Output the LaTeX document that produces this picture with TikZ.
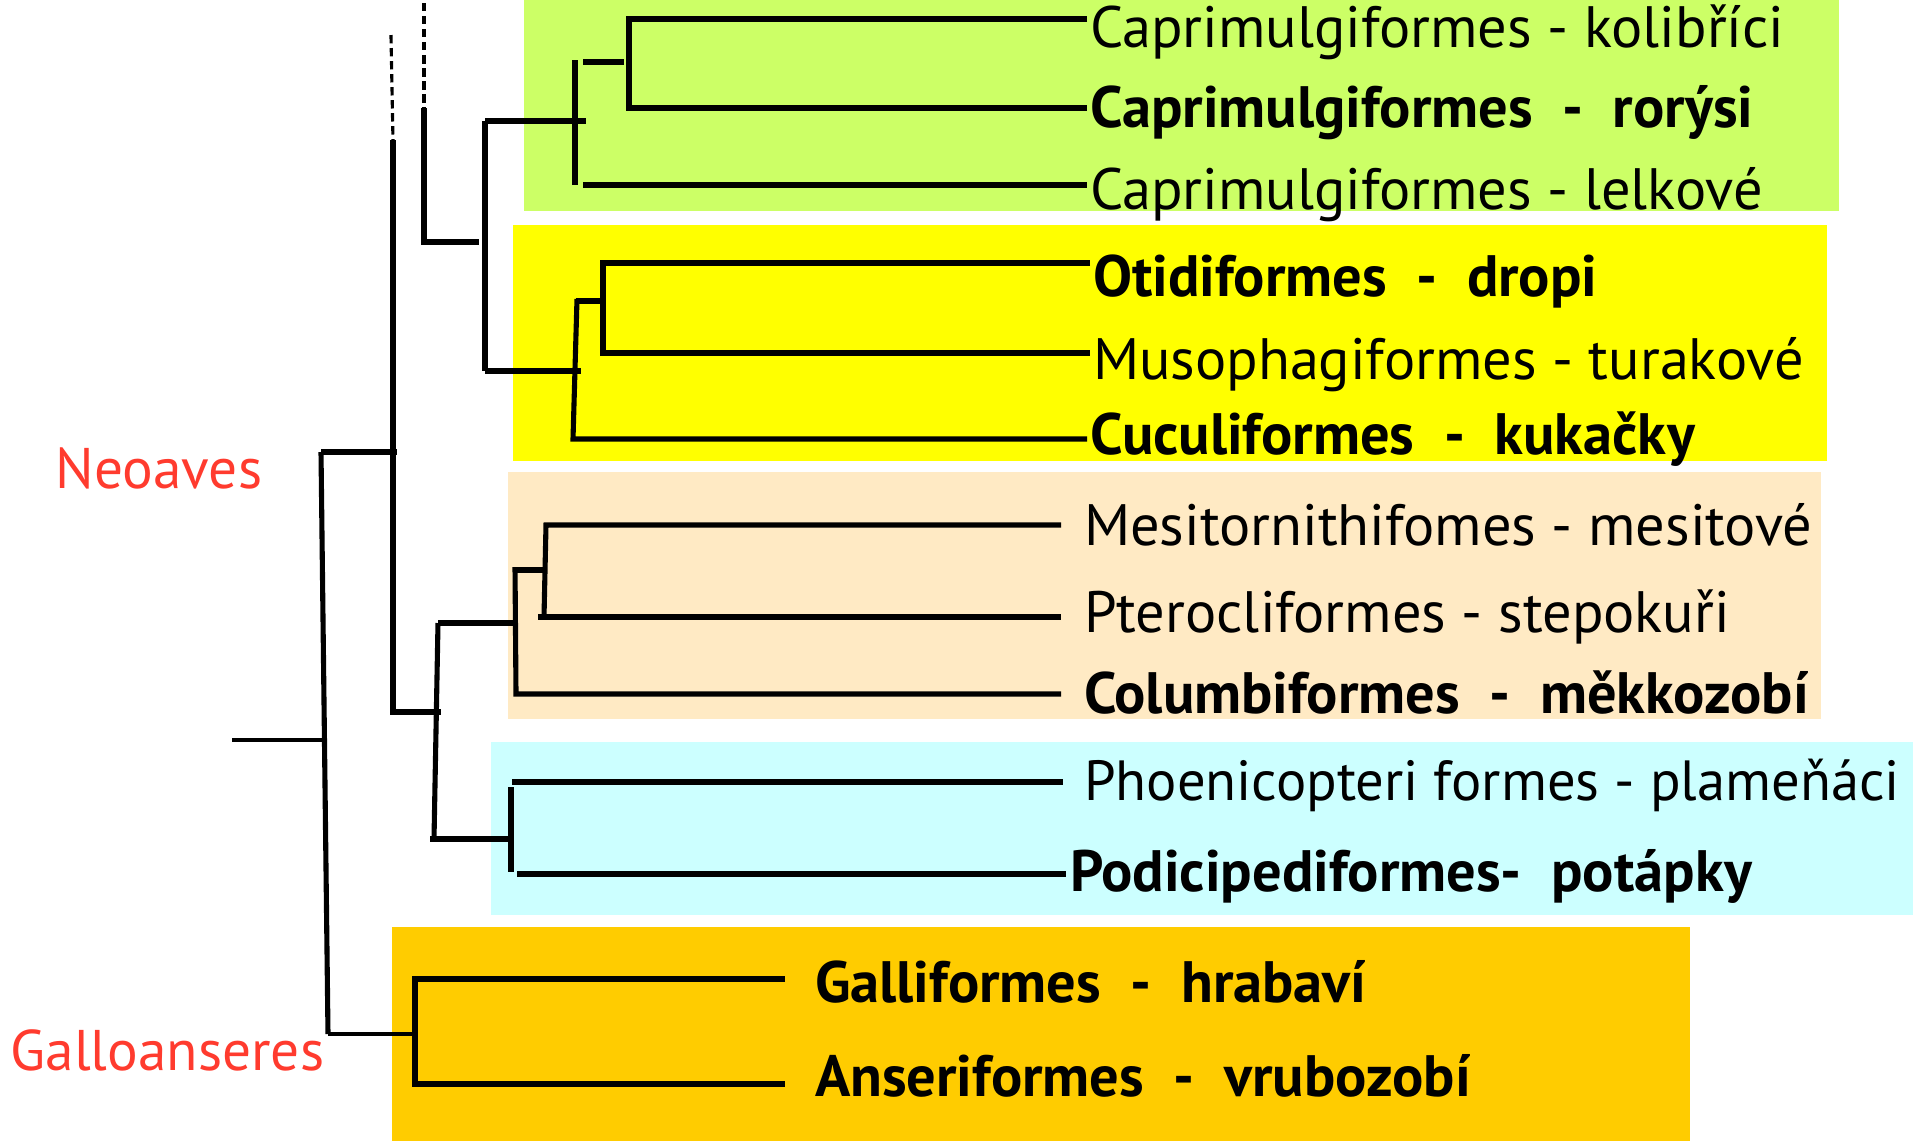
\documentclass[tikz,border=0pt]{standalone}
\usepackage{fontspec}
\setmainfont{PT Sans}
\usepackage{xcolor}
\definecolor{cladegreen}{HTML}{CCFF66}
\definecolor{cladeyellow}{HTML}{FFFF00}
\definecolor{cladebeige}{HTML}{FFEAC4}
\definecolor{cladecyan}{HTML}{CCFFFF}
\definecolor{cladeorange}{HTML}{FFCC00}
\definecolor{grpred}{HTML}{FF3B2E}

\begin{document}
\begin{tikzpicture}[
  x=0.01cm, y=-0.01cm,
  branch/.style = {line width=1.45pt, line join=miter},
  twig/.style   = {line width=0.9pt},
  stem/.style   = {line width=0.9pt, dash pattern=on 2.4pt off 1.3pt},
  leaf/.style   = {anchor=base west, inner sep=0pt, outer xsep=0.03cm,
                   font=\fontsize{16.6}{20}\selectfont},
  leafbf/.style = {leaf, font=\fontsize{16.6}{20}\selectfont\bfseries},
  grp/.style    = {anchor=west, inner sep=0pt, text=grpred,
                   font=\fontsize{16.3}{20}\selectfont}
]
  \useasboundingbox (0,0) rectangle (1913,1141);

  % clade boxes
  \fill[cladegreen]  (524,0)   rectangle (1839,211);
  \fill[cladeyellow] (513,225) rectangle (1827,461);
  \fill[cladebeige]  (508,472) rectangle (1821,719);
  \fill[cladecyan]   (491,742) rectangle (1913,915);
  \fill[cladeorange] (392,927) rectangle (1690,1141);

  % leaves
  \node[leaf]   (kolib) at (1087,47)  {Caprimulgiformes - kolibříci};
  \node[leafbf] (rorys) at (1087,127) {Caprimulgiformes \ - \ rorýsi};
  \node[leaf]   (lelk)  at (1087,209) {Caprimulgiformes - lelkové};
  \node[leafbf] (dropi) at (1090,296) {Otidiformes \ - \ dropi};
  \node[leaf]   (turak) at (1090,379) {Musophagiformes - turakové};
  \node[leafbf] (kukac) at (1087,454) {Cuculiformes \ - \ kukačky};
  \node[leaf, outer xsep=0.23cm]   (mesit) at (1061,545) {Mesitornithifomes - mesitové};
  \node[leaf, outer xsep=0.23cm]   (stepo) at (1061,632) {Pterocliformes - stepokuři};
  \node[leafbf, outer xsep=0.23cm] (mekko) at (1061,713) {Columbiformes \ - \ měkkozobí};
  \node[leaf, outer xsep=0.21cm, font=\fontsize{16.1}{20}\selectfont]
                                   (plame) at (1063,800) {Phoenicopteri formes - plameňáci};
  \node[leafbf, outer xsep=0.04cm] (potap) at (1066,891) {Podicipediformes- \ potápky};
  \node[leafbf, outer xsep=0.30cm] (hrab)  at (785,1002) {Galliformes \ - \ hrabaví};
  \node[leafbf, outer xsep=0.30cm] (vrub)  at (785,1096) {Anseriformes \ - \ vrubozobí};

  \node[grp] (neoav) at (55,468)  {Neoaves};
  \node[grp] (gallo) at (10,1050) {Galloanseres};

  % inner points of the tree
  \coordinate (root) at (232,740);  \coordinate (aves) at (324,740);
  \coordinate (neo)  at (321,452);  \coordinate (gal)  at (328,1034);
  \coordinate (n1up) at (393,140);  \coordinate (n1dn) at (393,712);
  \coordinate (n2up) at (424,108);  \coordinate (n2dn) at (424,242);
  \coordinate (n3up) at (485,121);  \coordinate (n3dn) at (485,371);
  \coordinate (gr1)  at (575,60);   \coordinate (gr2)  at (575,185);
  \coordinate (gk)   at (629,19);   \coordinate (gs)   at (629,108);
  \coordinate (ye1)  at (577,299);  \coordinate (ye2)  at (573,439);
  \coordinate (yd)   at (603,263);  \coordinate (yt)   at (603,353);
  \coordinate (n4up) at (438,623);  \coordinate (n4dn) at (434,839);
  \coordinate (be1)  at (515,567);  \coordinate (be2)  at (516,694);
  \coordinate (bm)   at (546,525);  \coordinate (bs)   at (544,617);
  \coordinate (cy1)  at (511,787);  \coordinate (cy2)  at (511,872);
  \coordinate (ga1)  at (415,979);  \coordinate (ga2)  at (415,1084);

  % base of the tree
  \draw[twig]   (root) -- (aves);
  \draw[branch] (neo) -- (gal);
  \draw[branch] (neo) -- (397,452);
  \draw[twig]   (gal) -- (418,1034);
  \draw[branch] (hrab.west |- ga1) -- (ga1) -- (ga2) -- (vrub.west |- ga2);

  % Neoaves
  \draw[stem]   (391,35) -- (n1up);
  \draw[branch] (n1up) -- (n1dn) -- (441,712);
  \draw[stem]   (424,3) -- (n2up);
  \draw[branch] (n2up) -- (n2dn) -- (479,242);
  \draw[branch] (n3up) -- (n3dn);
  \draw[branch] (n3up) -- (586,121);
  \draw[branch] (n3dn) -- (581,371);

  \draw[branch] (gr1) -- (gr2);
  \draw[branch] (583,62) -- (624,62);
  \draw[branch] (kolib.west |- gk) -- (gk) -- (gs) -- (rorys.west |- gs);
  \draw[branch] (583,185) -- (lelk.west |- gr2);

  \draw[branch] (ye1) -- (ye2) -- (kukac.west |- ye2);
  \draw[branch] (576,301) -- (606,301);
  \draw[branch] (dropi.west |- yd) -- (yd) -- (yt) -- (turak.west |- yt);

  \draw[branch] (n4up) -- (n4dn);
  \draw[branch] (n4up) -- (513,623);
  \draw[branch] (430,839) -- (508,839);

  \draw[branch] (be1) -- (be2) -- (mekko.west |- be2);
  \draw[branch] (515,570) -- (543,570);
  \draw[branch] (mesit.west |- bm) -- (bm) -- (bs);
  \draw[branch] (538,617) -- (stepo.west |- bs);

  \draw[branch] (cy1) -- (cy2);
  \draw[branch] (512,782) -- (plame.west |- 512,782);
  \draw[branch] (517,874) -- (potap.west |- 517,874);
\end{tikzpicture}
\end{document}
